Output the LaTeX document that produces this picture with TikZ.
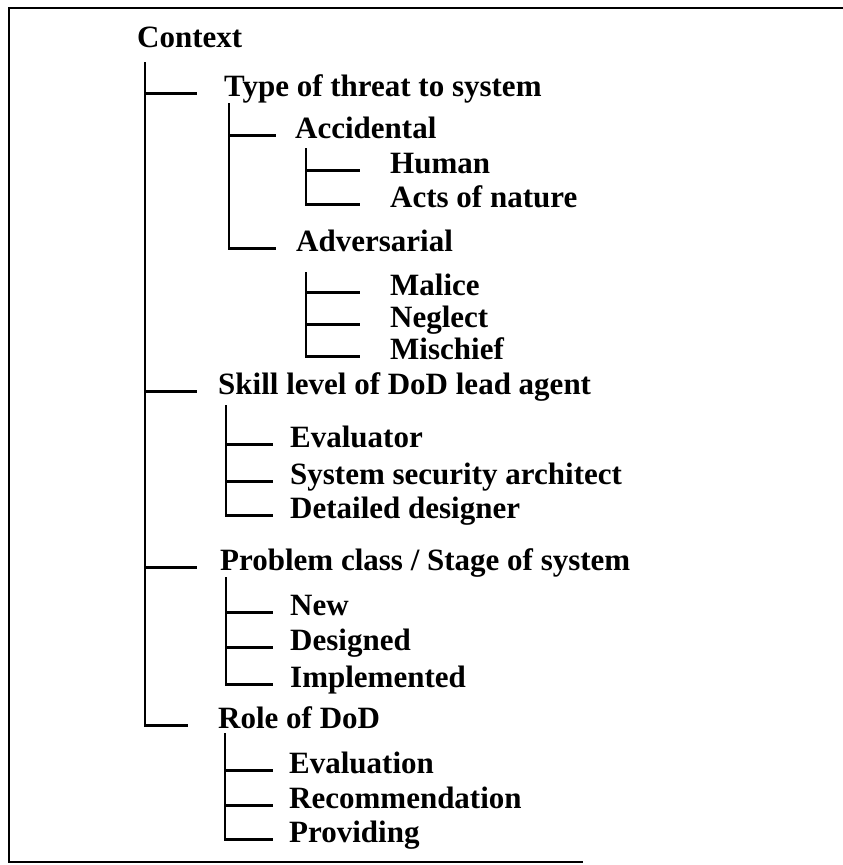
\documentclass[tikz,border=0pt]{standalone}
\usepackage{fontspec}
\setmainfont{Liberation Serif}
\usepackage{tikz}
\usetikzlibrary{positioning}

\begin{document}
\begin{tikzpicture}[
x=1pt, y=-1pt,
font=\fontsize{31}{37}\selectfont\bfseries,
item/.style={anchor=base west, inner sep=0pt},
branch/.style={line width=2.8pt}
]
    % Page and frame
    \useasboundingbox (0,0) rectangle (843,865);
    \draw[line width=2.4pt] (843,8) -- (9,8) -- (9,862) -- (583,862);

    \draw
    (145,62) coordinate (V0)
    (197,0) coordinate (E0)
    (188,0) coordinate (E0r)
    (229,103) coordinate (V1)
    (276,0) coordinate (E1)
    (306,148) coordinate (V2)
    (306,272) coordinate (V3)
    (360,0) coordinate (E2)
    (226,405) coordinate (V4)
    (226,577) coordinate (V5)
    (225,733) coordinate (V6)
    (273,0) coordinate (E4);

    % Items
    \node[item] (ctx) at (137,47) {Context};
    \node[item] (threat) at (224,96) {Type of threat to system};
    \node[item] (accid) at (295,138) {Accidental};
    \node[item] (human) at (390,173) {Human};
    \node[item] (nature) at (390,207) {Acts of nature};
    \node[item] (advers) at (296,251) {Adversarial};
    \node[item] (malice) at (390,295) {Malice};
    \node[item] (neglect) at (390,327) {Neglect};
    \node[item] (mischief) at (390,359) {Mischief};
    \node[item] (skill) at (218,394) {Skill level of DoD lead agent};
    \node[item] (evaluator) at (290,447) {Evaluator};
    \node[item] (architect) at (290,484) {System security architect};
    \node[item] (designer) at (290,518) {Detailed designer};
    \node[item] (problem) at (220,570) {Problem class / Stage of system};
    \node[item] (new) at (290,615) {New};
    \node[item] (designed) at (290,650) {Designed};
    \node[item] (implemented) at (290,687) {Implemented};
    \node[item] (role) at (218,728) {Role of DoD};
    \node[item] (evaluation) at (289,773) {Evaluation};
    \node[item] (recommend) at (289,808) {Recommendation};
    \node[item] (providing) at (289,842) {Providing};

    % Branches
    \draw[branch] (V0) |- (threat.mid west -| E0);
    \draw[branch] (V0) |- (skill.mid west -| E0);
    \draw[branch] (V0) |- (problem.mid west -| E0);
    \draw[branch] (V0) |- (role.mid west -| E0r);

    \draw[branch] (V1) |- (accid.mid west -| E1);
    \draw[branch] (V1) |- (advers.mid west -| E1);

    \draw[branch] (V2) |- (human.mid west -| E2);
    \draw[branch] (V2) |- (nature.mid west -| E2);

    \draw[branch] (V3) |- (malice.mid west -| E2);
    \draw[branch] (V3) |- (neglect.mid west -| E2);
    \draw[branch] (V3) |- (mischief.mid west -| E2);

    \draw[branch] (V4) |- (evaluator.mid west -| E4);
    \draw[branch] (V4) |- (architect.mid west -| E4);
    \draw[branch] (V4) |- (designer.mid west -| E4);

    \draw[branch] (V5) |- (new.mid west -| E4);
    \draw[branch] (V5) |- (designed.mid west -| E4);
    \draw[branch] (V5) |- (implemented.mid west -| E4);

    \draw[branch] (V6) |- (evaluation.mid west -| E4);
    \draw[branch] (V6) |- (recommend.mid west -| E4);
    \draw[branch] (V6) |- (providing.mid west -| E4);

\end{tikzpicture}
\end{document}
